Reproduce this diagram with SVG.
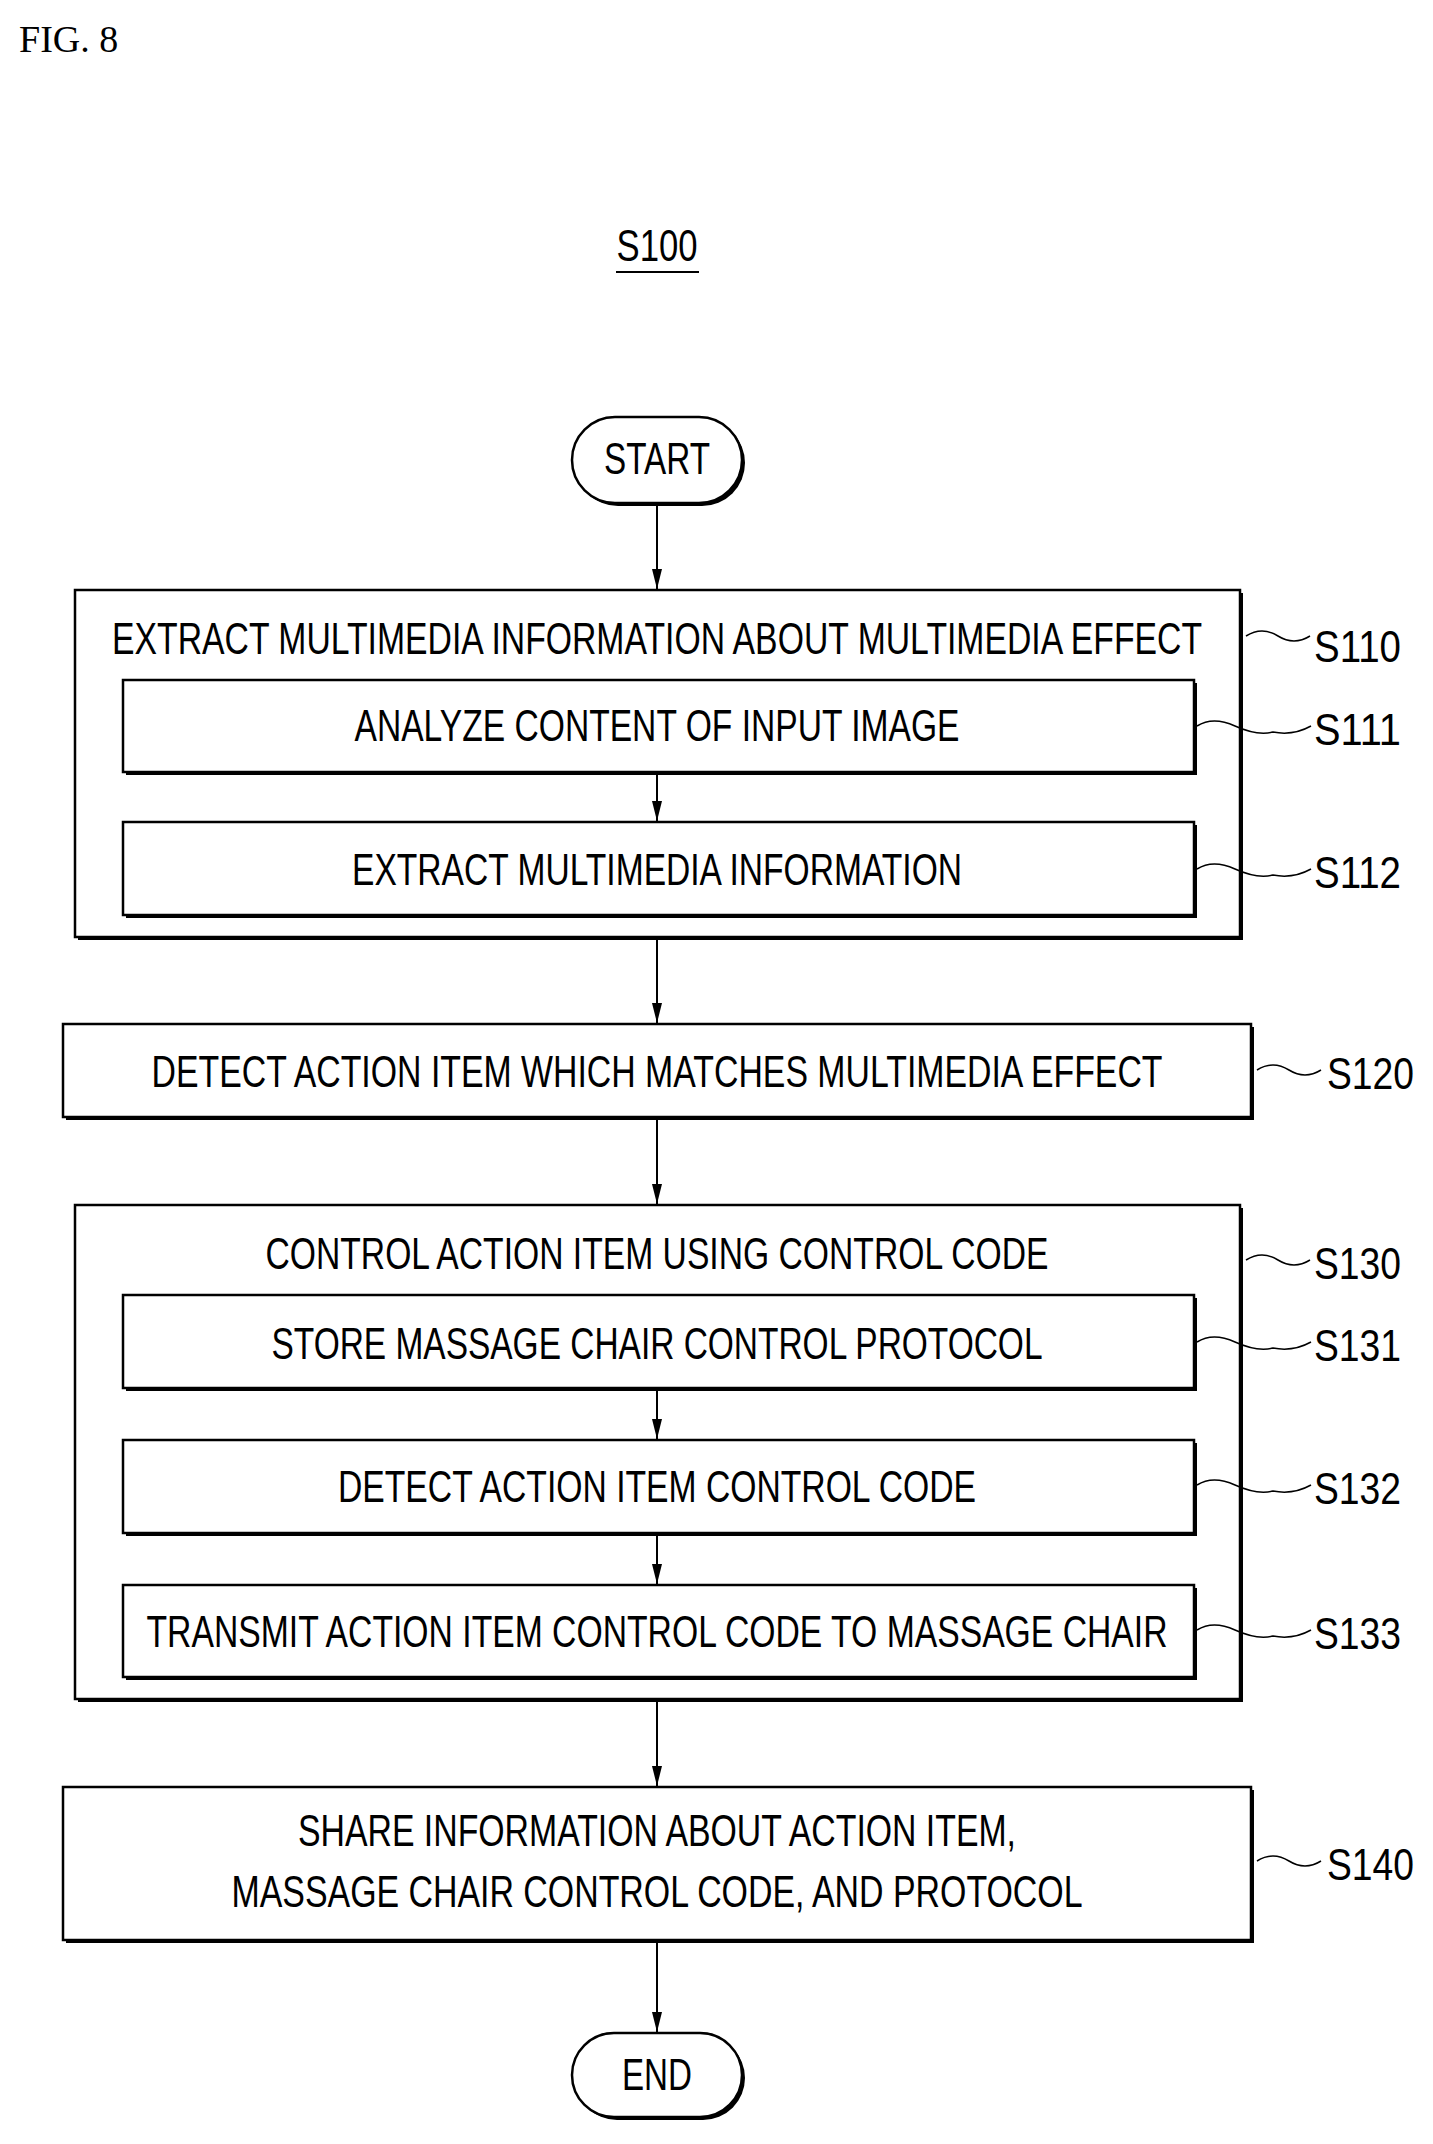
<svg xmlns="http://www.w3.org/2000/svg" width="1433" height="2144" viewBox="0 0 1433 2144">
<defs>
<marker id="ah" markerWidth="20" markerHeight="10" refX="20" refY="5" orient="auto" markerUnits="userSpaceOnUse" viewBox="0 0 20 10"><path d="M0,0 L20,5 L0,10 Z" fill="#000"/></marker>
</defs>
<style>
.b{fill:#fff;stroke:#000;stroke-width:2.5}
.sh{fill:#000}
.t{font-family:"Liberation Sans",Arial,sans-serif;font-size:44px;fill:#000;text-anchor:middle}
.l{font-family:"Liberation Sans",Arial,sans-serif;font-size:44px;fill:#000}
.w{fill:none;stroke:#000;stroke-width:1.5}
.c{stroke:#000;stroke-width:2;fill:none;marker-end:url(#ah)}
</style>
<text x="19" y="52" font-family="Liberation Serif,serif" font-size="38">FIG. 8</text>
<g id="s100"><text class="t" x="657" y="261" textLength="81" lengthAdjust="spacingAndGlyphs">S100</text><line x1="616" y1="272" x2="699" y2="272" stroke="#000" stroke-width="2"/></g>
<g id="start"><rect class="sh" x="575" y="420" width="170" height="86" rx="43"/><rect class="b" x="572" y="417" width="170" height="86" rx="43"/><text class="t" x="657" y="474" textLength="106" lengthAdjust="spacingAndGlyphs">START</text></g>
<g id="n110"><rect class="sh" x="78" y="593" width="1165" height="347"/><rect class="b" x="75" y="590" width="1165" height="347"/><text class="t" x="657" y="654" textLength="1090" lengthAdjust="spacingAndGlyphs">EXTRACT MULTIMEDIA INFORMATION ABOUT MULTIMEDIA EFFECT</text></g>
<g id="n111"><rect class="sh" x="126" y="683" width="1071" height="92"/><rect class="b" x="123" y="680" width="1071" height="92"/><text class="t" x="657" y="741" textLength="605" lengthAdjust="spacingAndGlyphs">ANALYZE CONTENT OF INPUT IMAGE</text></g>
<g id="n112"><rect class="sh" x="126" y="825" width="1071" height="93"/><rect class="b" x="123" y="822" width="1071" height="93"/><text class="t" x="657" y="885" textLength="610" lengthAdjust="spacingAndGlyphs">EXTRACT MULTIMEDIA INFORMATION</text></g>
<g id="n120"><rect class="sh" x="66" y="1027" width="1188" height="93"/><rect class="b" x="63" y="1024" width="1188" height="93"/><text class="t" x="657" y="1087" textLength="1011" lengthAdjust="spacingAndGlyphs">DETECT ACTION ITEM WHICH MATCHES MULTIMEDIA EFFECT</text></g>
<g id="n130"><rect class="sh" x="78" y="1208" width="1165" height="494"/><rect class="b" x="75" y="1205" width="1165" height="494"/><text class="t" x="657" y="1269" textLength="783" lengthAdjust="spacingAndGlyphs">CONTROL ACTION ITEM USING CONTROL CODE</text></g>
<g id="n131"><rect class="sh" x="126" y="1298" width="1071" height="93"/><rect class="b" x="123" y="1295" width="1071" height="93"/><text class="t" x="657" y="1359" textLength="771" lengthAdjust="spacingAndGlyphs">STORE MASSAGE CHAIR CONTROL PROTOCOL</text></g>
<g id="n132"><rect class="sh" x="126" y="1443" width="1071" height="93"/><rect class="b" x="123" y="1440" width="1071" height="93"/><text class="t" x="657" y="1502" textLength="638" lengthAdjust="spacingAndGlyphs">DETECT ACTION ITEM CONTROL CODE</text></g>
<g id="n133"><rect class="sh" x="126" y="1588" width="1071" height="92"/><rect class="b" x="123" y="1585" width="1071" height="92"/><text class="t" x="657" y="1647" textLength="1021" lengthAdjust="spacingAndGlyphs">TRANSMIT ACTION ITEM CONTROL CODE TO MASSAGE CHAIR</text></g>
<g id="n140"><rect class="sh" x="66" y="1790" width="1188" height="153"/><rect class="b" x="63" y="1787" width="1188" height="153"/><text class="t" x="657" y="1846" textLength="718" lengthAdjust="spacingAndGlyphs">SHARE INFORMATION ABOUT ACTION ITEM,</text><text class="t" x="657" y="1907" textLength="851" lengthAdjust="spacingAndGlyphs">MASSAGE CHAIR CONTROL CODE, AND PROTOCOL</text></g>
<g id="end"><rect class="sh" x="575" y="2036" width="170" height="84" rx="42"/><rect class="b" x="572" y="2033" width="170" height="84" rx="42"/><text class="t" x="657" y="2090" textLength="70" lengthAdjust="spacingAndGlyphs">END</text></g>
<g id="connectors">
<line class="c" x1="657" y1="506" x2="657" y2="589"/>
<line class="c" x1="657" y1="775" x2="657" y2="821"/>
<line class="c" x1="657" y1="940" x2="657" y2="1023"/>
<line class="c" x1="657" y1="1120" x2="657" y2="1204"/>
<line class="c" x1="657" y1="1391" x2="657" y2="1439"/>
<line class="c" x1="657" y1="1536" x2="657" y2="1584"/>
<line class="c" x1="657" y1="1702" x2="657" y2="1786"/>
<line class="c" x1="657" y1="1943" x2="657" y2="2032"/>
</g>
<g id="labels">
<path class="w" d="M1246,636 q16,-10 32,0 t32,0"/><text class="l" x="1314" y="662" textLength="87" lengthAdjust="spacingAndGlyphs">S110</text>
<path class="w" d="M1197,726 q16,-10 38,0 t38,6 q20,4 38,-6"/><text class="l" x="1314" y="745" textLength="87" lengthAdjust="spacingAndGlyphs">S111</text>
<path class="w" d="M1197,869 q16,-10 38,0 t38,6 q20,4 38,-6"/><text class="l" x="1314" y="888" textLength="87" lengthAdjust="spacingAndGlyphs">S112</text>
<path class="w" d="M1257,1070 q16,-10 32,0 t32,0"/><text class="l" x="1327" y="1089" textLength="87" lengthAdjust="spacingAndGlyphs">S120</text>
<path class="w" d="M1246,1260 q16,-10 32,0 t32,0"/><text class="l" x="1314" y="1279" textLength="87" lengthAdjust="spacingAndGlyphs">S130</text>
<path class="w" d="M1197,1342 q16,-10 38,0 t38,6 q20,4 38,-6"/><text class="l" x="1314" y="1361" textLength="87" lengthAdjust="spacingAndGlyphs">S131</text>
<path class="w" d="M1197,1485 q16,-10 38,0 t38,6 q20,4 38,-6"/><text class="l" x="1314" y="1504" textLength="87" lengthAdjust="spacingAndGlyphs">S132</text>
<path class="w" d="M1197,1630 q16,-10 38,0 t38,6 q20,4 38,-6"/><text class="l" x="1314" y="1649" textLength="87" lengthAdjust="spacingAndGlyphs">S133</text>
<path class="w" d="M1257,1861 q16,-10 32,0 t32,0"/><text class="l" x="1327" y="1880" textLength="87" lengthAdjust="spacingAndGlyphs">S140</text>
</g>
</svg>
